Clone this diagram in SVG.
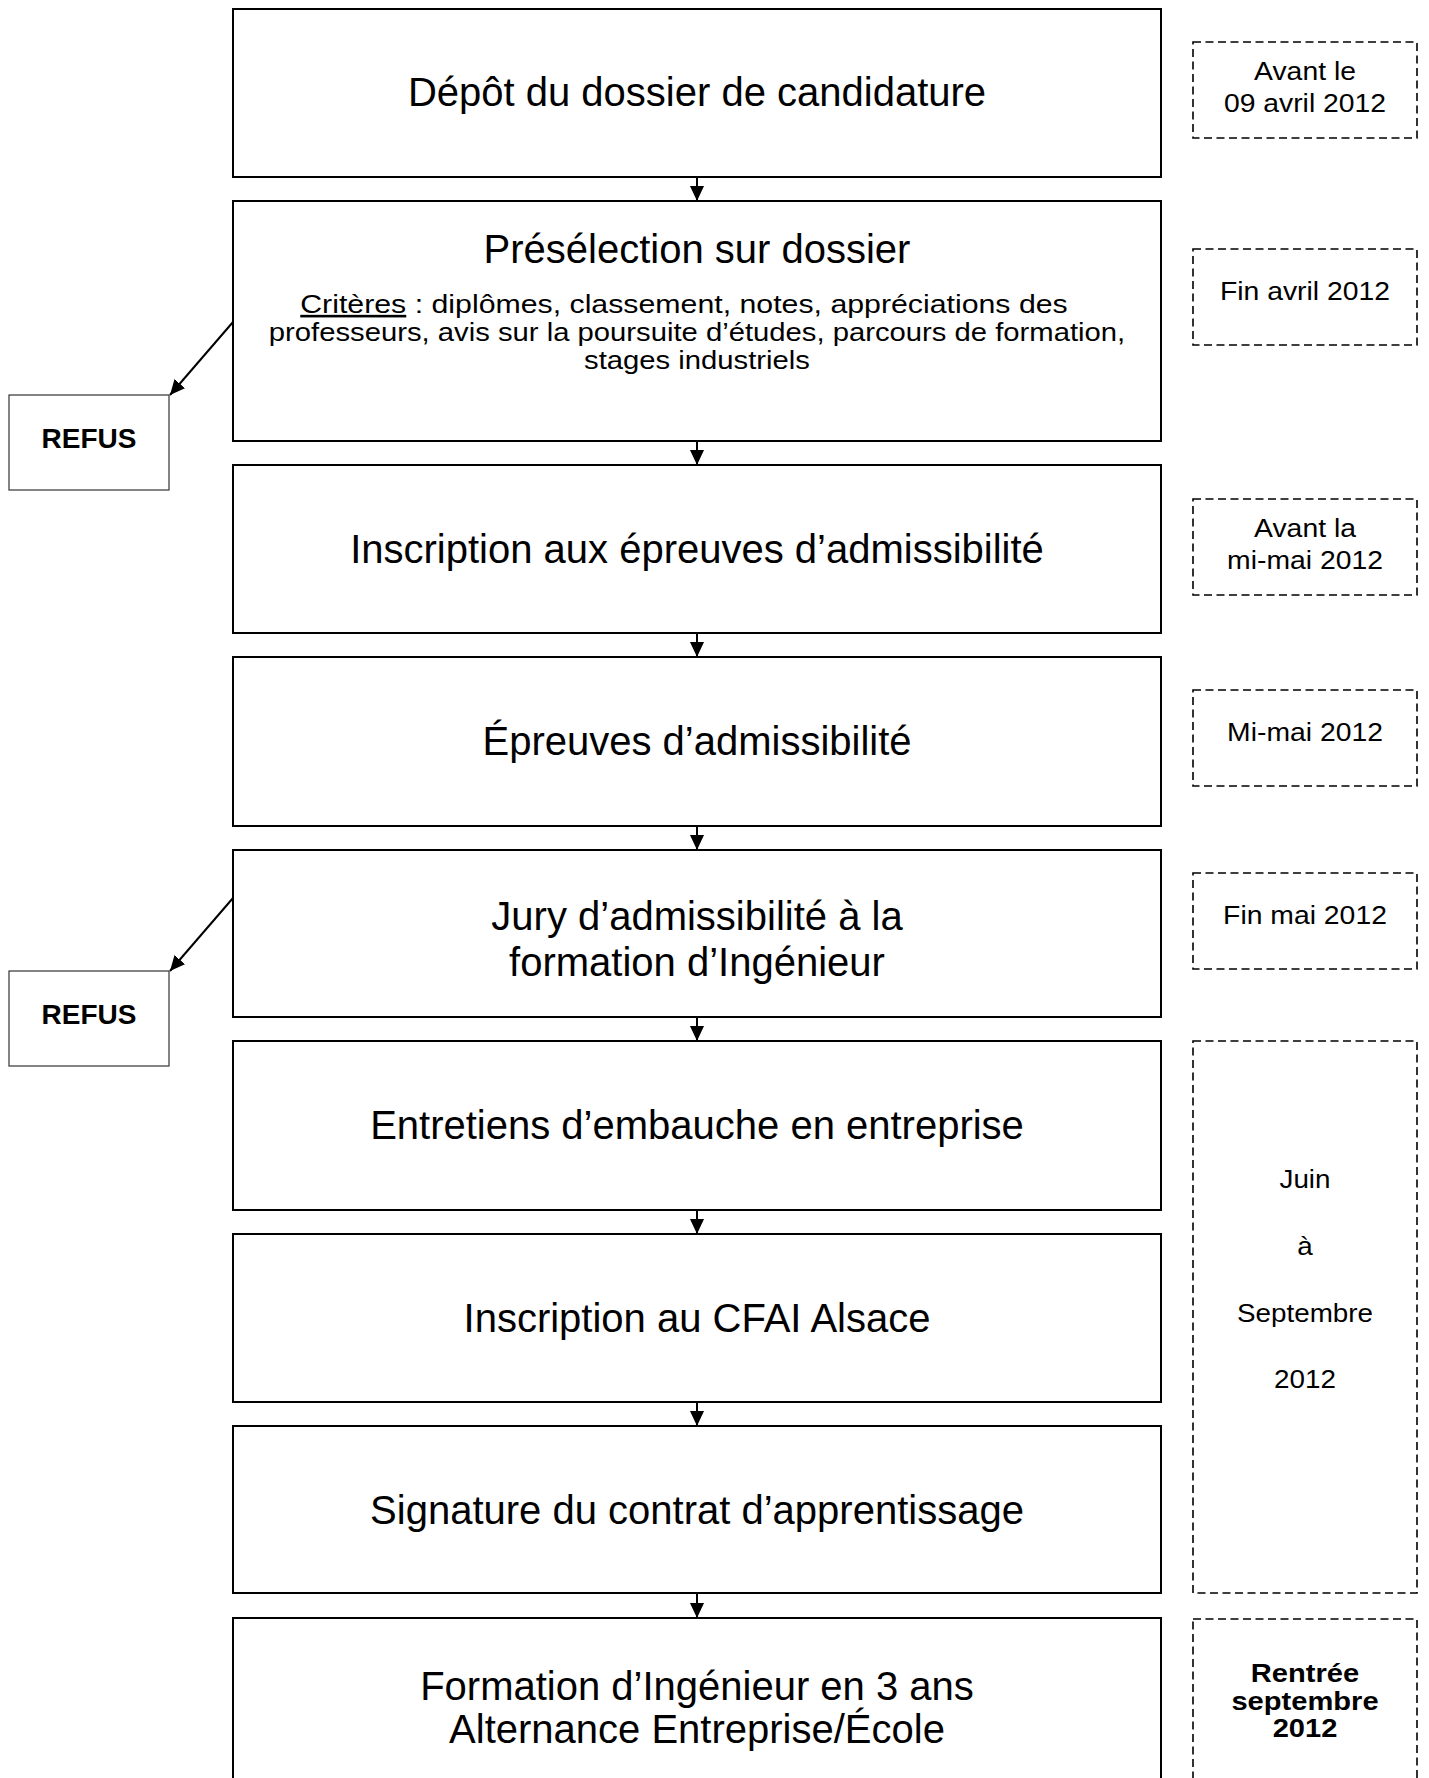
<svg xmlns="http://www.w3.org/2000/svg" width="1429" height="1778" viewBox="0 0 1429 1778">
<style>
.box{fill:#fff;stroke:#000;stroke-width:2}
.date{fill:none;stroke:#000;stroke-width:1.6;stroke-dasharray:8 4.5}
.refus{fill:#fff;stroke:#333;stroke-width:1.2}
.conn{stroke:#000;stroke-width:2;fill:none}
.main{font-family:"Liberation Sans",Arial,sans-serif;font-size:40px;fill:#000;text-anchor:middle}
.small{font-family:"Liberation Sans",Arial,sans-serif;font-size:26px;fill:#000;text-anchor:middle}
.bold{font-family:"Liberation Sans",Arial,sans-serif;font-size:26px;font-weight:bold;fill:#000;text-anchor:middle}
.refust{font-family:"Liberation Sans",Arial,sans-serif;font-size:28px;font-weight:bold;fill:#000;text-anchor:middle}
</style>
<defs>
<marker id="arr" markerUnits="userSpaceOnUse" markerWidth="16" markerHeight="16" refX="15" refY="7" orient="auto">
<path d="M0,0 L15,7 L0,14 z" fill="#000"/>
</marker>
</defs>
<rect width="1429" height="1778" fill="#fff"/>

<g id="connectors">
<line class="conn" x1="697" y1="177" x2="697" y2="201" marker-end="url(#arr)"/>
<line class="conn" x1="697" y1="441" x2="697" y2="465" marker-end="url(#arr)"/>
<line class="conn" x1="697" y1="633" x2="697" y2="657" marker-end="url(#arr)"/>
<line class="conn" x1="697" y1="826" x2="697" y2="850" marker-end="url(#arr)"/>
<line class="conn" x1="697" y1="1017" x2="697" y2="1041" marker-end="url(#arr)"/>
<line class="conn" x1="697" y1="1210" x2="697" y2="1234" marker-end="url(#arr)"/>
<line class="conn" x1="697" y1="1402" x2="697" y2="1426" marker-end="url(#arr)"/>
<line class="conn" x1="697" y1="1593" x2="697" y2="1618" marker-end="url(#arr)"/>
<line class="conn" x1="233" y1="322" x2="170" y2="395" marker-end="url(#arr)"/>
<line class="conn" x1="233" y1="898" x2="170" y2="971" marker-end="url(#arr)"/>
</g>

<g id="n1"><rect class="box" x="233" y="9" width="928" height="168"/>
<text class="main" x="697" y="106">Dépôt du dossier de candidature</text></g>

<g id="n2"><rect class="box" x="233" y="201" width="928" height="240"/>
<text class="main" x="697" y="263">Présélection sur dossier</text>
<g transform="translate(684 0) scale(1.165 1)">
<text class="small" x="0" y="313"><tspan text-decoration="underline">Critères</tspan> : diplômes, classement, notes, appréciations des</text>
</g>
<g transform="translate(697 0) scale(1.125 1)">
<text class="small" x="0" y="341">professeurs, avis sur la poursuite d’études, parcours de formation,</text>
<text class="small" x="0" y="369">stages industriels</text>
</g></g>

<g id="n3"><rect class="box" x="233" y="465" width="928" height="168"/>
<text class="main" x="697" y="563">Inscription aux épreuves d’admissibilité</text></g>

<g id="n4"><rect class="box" x="233" y="657" width="928" height="169"/>
<text class="main" x="697" y="755">Épreuves d’admissibilité</text></g>

<g id="n5"><rect class="box" x="233" y="850" width="928" height="167"/>
<text class="main" x="697" y="930">Jury d’admissibilité à la</text>
<text class="main" x="697" y="976">formation d’Ingénieur</text></g>

<g id="n6"><rect class="box" x="233" y="1041" width="928" height="169"/>
<text class="main" x="697" y="1139">Entretiens d’embauche en entreprise</text></g>

<g id="n7"><rect class="box" x="233" y="1234" width="928" height="168"/>
<text class="main" x="697" y="1332">Inscription au CFAI Alsace</text></g>

<g id="n8"><rect class="box" x="233" y="1426" width="928" height="167"/>
<text class="main" x="697" y="1524">Signature du contrat d’apprentissage</text></g>

<g id="n9"><rect class="box" x="233" y="1618" width="928" height="200"/>
<text class="main" x="697" y="1700">Formation d’Ingénieur en 3 ans</text>
<text class="main" x="697" y="1743">Alternance Entreprise/École</text></g>

<g id="refus1"><rect class="refus" x="9" y="395" width="160" height="95"/>
<text class="refust" x="89" y="448">REFUS</text></g>

<g id="refus2"><rect class="refus" x="9" y="971" width="160" height="95"/>
<text class="refust" x="89" y="1024">REFUS</text></g>

<g id="d1"><rect class="date" x="1193" y="42" width="224" height="96"/>
<g transform="translate(1305 0) scale(1.09 1)">
<text class="small" x="0" y="80">Avant le</text>
<text class="small" x="0" y="112">09 avril 2012</text></g></g>

<g id="d2"><rect class="date" x="1193" y="249" width="224" height="96"/>
<g transform="translate(1305 0) scale(1.09 1)">
<text class="small" x="0" y="300">Fin avril 2012</text></g></g>

<g id="d3"><rect class="date" x="1193" y="499" width="224" height="96"/>
<g transform="translate(1305 0) scale(1.09 1)">
<text class="small" x="0" y="537">Avant la</text>
<text class="small" x="0" y="569">mi-mai 2012</text></g></g>

<g id="d4"><rect class="date" x="1193" y="690" width="224" height="96"/>
<g transform="translate(1305 0) scale(1.09 1)">
<text class="small" x="0" y="741">Mi-mai 2012</text></g></g>

<g id="d5"><rect class="date" x="1193" y="873" width="224" height="96"/>
<g transform="translate(1305 0) scale(1.09 1)">
<text class="small" x="0" y="924">Fin mai 2012</text></g></g>

<g id="d6"><rect class="date" x="1193" y="1041" width="224" height="552"/>
<g transform="translate(1305 0) scale(1.07 1)">
<text class="small" x="0" y="1188">Juin</text>
<text class="small" x="0" y="1255">à</text>
<text class="small" x="0" y="1322">Septembre</text>
<text class="small" x="0" y="1388">2012</text></g></g>

<g id="d7"><rect class="date" x="1193" y="1619" width="224" height="200"/>
<g transform="translate(1305 0) scale(1.12 1)">
<text class="bold" x="0" y="1682">Rentrée</text>
<text class="bold" x="0" y="1710">septembre</text>
<text class="bold" x="0" y="1737">2012</text></g></g>
</svg>
